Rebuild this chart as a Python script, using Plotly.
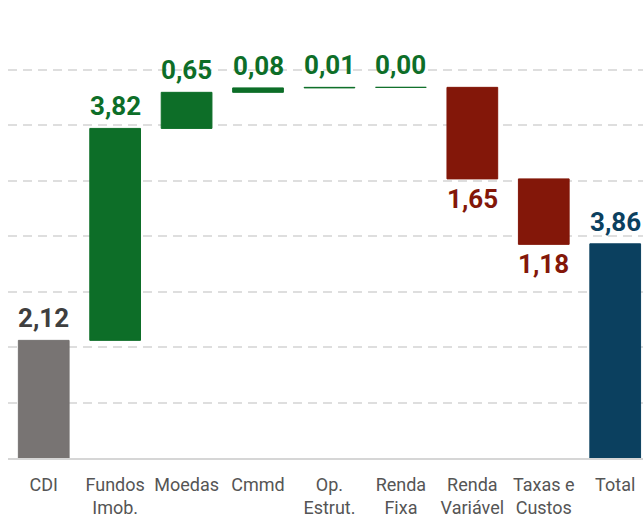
import plotly.graph_objects as go

categories = ["CDI", "Fundos<br>Imob.", "Moedas", "Cmmd", "Op.<br>Estrut.",
              "Renda<br>Fixa", "Renda<br>Variável", "Taxas e<br>Custos", "Total"]
values = [2.12, 3.82, 0.65, 0.08, 0.01, 0.00, -1.65, -1.18, 3.86]
measures = ["absolute", "relative", "relative", "relative", "relative",
            "relative", "relative", "relative", "total"]

C_START, C_UP, C_DOWN, C_TOTAL = "#787473", "#0d6e28", "#831709", "#0b405f"
C_START_TXT = "#3f3f3f"

bases, heights, colors, txtcolors = [], [], [], []
running = 0.0
for v, m in zip(values, measures):
    if m == "absolute":
        bases.append(0); heights.append(v); running = v
        colors.append(C_START); txtcolors.append(C_START_TXT)
    elif m == "total":
        bases.append(0); heights.append(v)
        colors.append(C_TOTAL); txtcolors.append(C_TOTAL)
    else:
        bases.append(running); heights.append(v); running += v
        c = C_UP if v >= 0 else C_DOWN
        colors.append(c); txtcolors.append(c)

xs = list(range(len(categories)))
fig = go.Figure()
fig.add_trace(go.Bar(
    x=xs, y=heights, base=bases, width=0.71,
    marker=dict(color=colors, line=dict(color=colors, width=1)),
    hoverinfo="skip",
))

for i, (b, h, v, tc) in enumerate(zip(bases, heights, values, txtcolors)):
    label = f"{abs(v):.2f}".replace(".", ",")
    font = dict(family="Roboto", size=26, color=tc, weight="bold")
    if v >= 0:
        fig.add_annotation(x=i, y=b + h, text=label, showarrow=False,
                           yanchor="bottom", yshift=5, font=font)
    else:
        fig.add_annotation(x=i, y=b + h, text=label, showarrow=False,
                           yanchor="top", yshift=-3, font=font)

fig.update_layout(
    width=643, height=517,
    margin=dict(l=8, r=0, t=8, b=59),
    plot_bgcolor="white", paper_bgcolor="white",
    showlegend=False,
    xaxis=dict(
        range=[-0.5, 8.389], tickvals=xs, ticktext=categories,
        showgrid=False, zeroline=False,
        showline=True, linecolor="#d6d6d6", linewidth=2,
        ticks="", ticklabelstandoff=9,
        tickfont=dict(family="Roboto", size=18, color="#555555"),
    ),
    yaxis=dict(
        range=[0, 8.11], tickvals=list(range(1, 8)), showticklabels=False,
        showgrid=True, gridcolor="#dedede", gridwidth=1.5, griddash="9px,6px",
        zeroline=False, showline=False,
    ),
)

fig.write_html(
    "out.html",
    config={"displayModeBar": False},
    post_script="document.body.style.margin='0';document.documentElement.style.overflow='hidden';",
)
